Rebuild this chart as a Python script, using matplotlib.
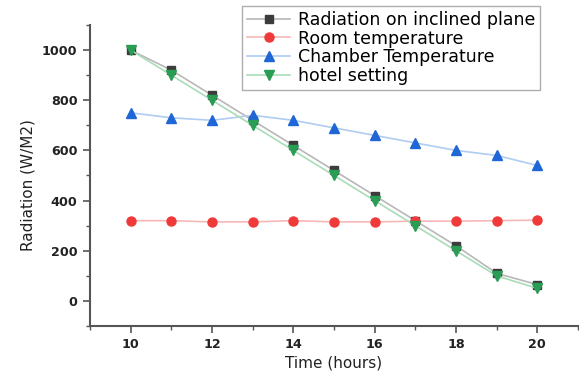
import numpy as np
import matplotlib
matplotlib.use('Agg')
import matplotlib.pyplot as plt
from matplotlib.ticker import MultipleLocator

plt.rcParams['font.family'] = ['DejaVu Sans']

# 数据
hours = [10, 11, 12, 13, 14, 15, 16, 17, 18, 19, 20]
radiation_inclined = [1000, 920, 820, 720, 620, 520, 420, 320, 220, 110, 65]
room_temp = [320, 320, 315, 315, 320, 315, 315, 318, 318, 320, 322]
chamber_temp = [750, 730, 720, 740, 720, 690, 660, 630, 600, 580, 540]
hotel_setting = [1000, 900, 800, 700, 600, 500, 400, 300, 200, 100, 50]

fig = plt.figure(figsize=(5.79, 3.79), dpi=100)
# 坐标轴位置（像素换算）
ax = fig.add_axes([90 / 579, 53 / 379, 488 / 579, 301 / 379])

ax.plot(hours, radiation_inclined, '-', color='#b8b8b8', lw=1.2,
        marker='s', ms=6, mfc='#3c3c3c', mec='#3c3c3c',
        label='Radiation on inclined plane')
ax.plot(hours, room_temp, '-', color='#f7b8b8', lw=1.2,
        marker='o', ms=6.5, mfc='#f03a3a', mec='#f03a3a',
        label='Room temperature')
ax.plot(hours, chamber_temp, '-', color='#b0ccf2', lw=1.2,
        marker='^', ms=7, mfc='#1f66d6', mec='#1f66d6',
        label='Chamber Temperature')
ax.plot(hours, hotel_setting, '-', color='#a8dcb8', lw=1.2,
        marker='v', ms=7, mfc='#2a9d55', mec='#2a9d55',
        label='hotel setting')

ax.set_xlim(9, 21)
ax.set_ylim(-100, 1100)
ax.xaxis.set_major_locator(MultipleLocator(2))
ax.xaxis.set_minor_locator(MultipleLocator(1))
ax.yaxis.set_major_locator(MultipleLocator(200))
ax.yaxis.set_minor_locator(MultipleLocator(100))

for s in ['top', 'right']:
    ax.spines[s].set_visible(False)
for s in ['left', 'bottom']:
    ax.spines[s].set_color('#555555')
    ax.spines[s].set_linewidth(1.5)

ax.tick_params(which='major', direction='out', length=5, width=1.2, color='#555555',
               labelsize=9.2, pad=4)
ax.tick_params(which='minor', direction='out', length=3, width=1.0, color='#555555')
for lab in ax.get_xticklabels() + ax.get_yticklabels():
    lab.set_fontweight('bold')
    lab.set_color('#222222')

ax.set_xlabel('Time (hours)', fontsize=11, color='#222222', labelpad=3)
ax.set_ylabel('Radiation (W/M2)', fontsize=11, color='#222222')
ax.yaxis.set_label_coords(-0.112, 0.468)

ax.legend(loc='upper left', bbox_to_anchor=(242 / 579, 1 - 6 / 379),
          bbox_transform=fig.transFigure, fontsize=12.5, frameon=True,
          fancybox=False, edgecolor='#999999', borderpad=0.28,
          labelspacing=0.04, handlelength=2.5, handletextpad=0.45,
          borderaxespad=0)

plt.savefig('out.png', dpi=100)
